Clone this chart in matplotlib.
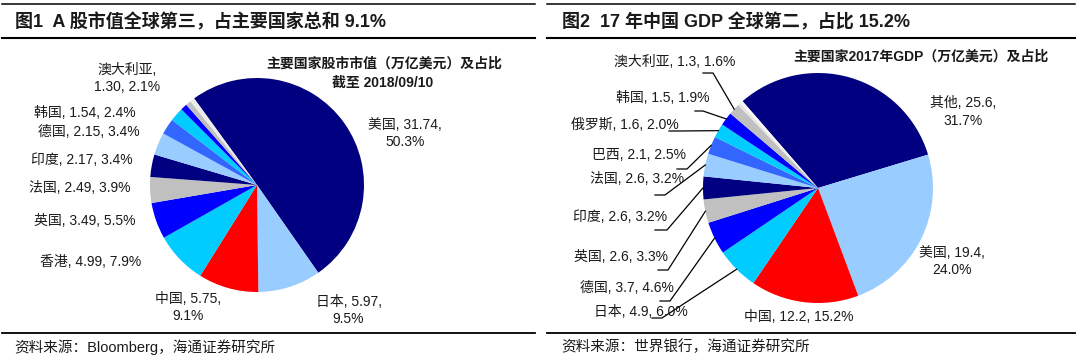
import matplotlib
matplotlib.use('Agg')
import matplotlib.pyplot as plt
from matplotlib.lines import Line2D
import numpy as np

plt.rcParams['font.family'] = ['Liberation Sans', 'Noto Sans CJK SC', 'DejaVu Sans']

W, H = 1080, 359

# 图1: market cap (trillion USD) and share, as of 2018/09/10
names1 = ['美国', '日本', '中国', '香港', '英国', '法国', '印度', '德国', '韩国', '澳大利亚']
cap1 = [31.74, 5.97, 5.75, 4.99, 3.49, 2.49, 2.17, 2.15, 1.54, 1.30]
share1 = [50.3, 9.5, 9.1, 7.9, 5.5, 3.9, 3.4, 3.4, 2.4, 2.1]
rest1 = [1.0, 0.8, 0.7]  # small unlabeled slices

# 图2: 2017 GDP (trillion USD) and share
names2 = ['其他', '美国', '中国', '日本', '德国', '英国', '印度', '法国', '巴西', '俄罗斯', '韩国', '澳大利亚']
gdp2 = [25.6, 19.4, 12.2, 4.9, 3.7, 2.6, 2.6, 2.6, 2.1, 1.6, 1.5, 1.3]
share2 = [31.7, 24.0, 15.2, 6.0, 4.6, 3.3, 3.2, 3.2, 2.5, 2.0, 1.9, 1.6]
rest2 = [0.4, 0.4]

palette = ['#000080', '#99CCFF', '#FF0000', '#00CCFF', '#0000FF', '#C0C0C0',
           '#000080', '#99CCFF', '#3366FF', '#00CCFF', '#0000FF', '#C0C0C0']
colors1 = palette[:10] + ['#0000FF', '#C0C0C0', '#EBEBEB']
colors2 = palette[:12] + ['#E6E6E6', '#F6F6F6']

# layout (pixels): pie centre / radius, label centres, wrap style
pie1 = (257, 185, 107, 126)
pie2 = (818, 188, 115, 131)
lab1 = [(405, 133.5, 2), (348.5, 310.5, 2), (188, 307.5, 2), (90.5, 262, 0),
        (84.5, 221, 0), (80, 188, 0), (82, 160, 0), (89, 132, 0),
        (84.5, 113, 0), (127, 78.5, 1)]
lab2 = [(963.5, 112, 2), (952, 261.5, 2), (799, 317, 0), (640.5, 312, 0),
        (626.5, 288, 0), (620.5, 257, 0), (620.5, 217, 0), (637.5, 179, 0),
        (639.5, 155, 0), (625, 125, 0), (663, 98, 0), (674.5, 62, 0)]
# leader start/elbow for the small slices of chart 2 (index -> points)
lead2 = {3: [(652, 318), (662, 318)], 4: [(660, 301), (670, 301)],
         5: [(658, 270), (668, 270)], 6: [(655, 230), (667, 230)],
         7: [(655, 195), (665, 195)], 8: [(677, 169), (687, 169)],
         9: [(669, 131), (680, 131)], 10: [(695, 111), (703, 111)],
         11: [(703, 73), (713, 73)]}

txt = '#1a1a1a'


def fx(x):
    return x / W


def fy(y):
    return 1 - y / H


def hline(fig, x0, x1, y, lw):
    fig.add_artist(Line2D([fx(x0), fx(x1)], [fy(y), fy(y)], lw=lw, color='black'))


def make_label(name, v, p, fmt, wrap):
    vs = fmt.format(v)
    if wrap == 1:
        return f'{name},\n{vs}, {p:.1f}%'
    if wrap == 2:
        return f'{name}, {vs},\n{p:.1f}%'
    return f'{name}, {vs}, {p:.1f}%'


def draw_pie(fig, geo, sizes, colors):
    cx, cy, r, start = geo
    ax = fig.add_axes([fx(cx - r), fy(cy + r), 2 * r / W, 2 * r / H])
    wedges, _ = ax.pie(sizes, colors=colors, startangle=start, counterclock=False,
                       radius=1, wedgeprops=dict(linewidth=0))
    ax.set_xlim(-1, 1)
    ax.set_ylim(-1, 1)
    ax.set_aspect('equal')
    ax.axis('off')
    return ax, wedges


fig = plt.figure(figsize=(W / 100, H / 100), dpi=100)

# frame rules
for x0, x1 in [(2, 535), (547, 1075)]:
    hline(fig, x0, x1, 4, 1.1)
    hline(fig, x0, x1, 38, 1.5)
    hline(fig, x0, x1, 333, 1.3)

fig.text(fx(15), fy(22), '图1  A 股市值全球第三，占主要国家总和 9.1%', fontsize=13,
         fontweight='bold', ha='left', va='center', color=txt)
fig.text(fx(562), fy(22), '图2  17 年中国 GDP 全球第二，占比 15.2%', fontsize=13,
         fontweight='bold', ha='left', va='center', color=txt)
fig.text(fx(14), fy(347), '资料来源：Bloomberg，海通证券研究所', fontsize=10.5,
         ha='left', va='center', color=txt)
fig.text(fx(561), fy(347), '资料来源：世界银行，海通证券研究所', fontsize=10.5,
         ha='left', va='center', color=txt)

# chart 1
ax1, w1 = draw_pie(fig, pie1, share1 + rest1, colors1)
fig.text(fx(384), fy(64), '主要国家股市市值（万亿美元）及占比', fontsize=10,
         fontweight='bold', ha='center', va='center', color=txt)
fig.text(fx(383), fy(83), '截至 2018/09/10', fontsize=10,
         fontweight='bold', ha='center', va='center', color=txt)
for i, (x, y, wrap) in enumerate(lab1):
    s = make_label(names1[i], cap1[i], share1[i], '{:.2f}', wrap)
    fig.text(fx(x), fy(y), s, fontsize=10, ha='center', va='center',
             linespacing=1.35, color=txt)

# chart 2
ax2, w2 = draw_pie(fig, pie2, share2 + rest2, colors2)
fig.text(fx(921), fy(57), '主要国家2017年GDP（万亿美元）及占比', fontsize=10,
         fontweight='bold', ha='center', va='center', color=txt)
for i, (x, y, wrap) in enumerate(lab2):
    s = make_label(names2[i], gdp2[i], share2[i], '{:.1f}', wrap)
    fig.text(fx(x), fy(y), s, fontsize=10, ha='center', va='center',
             linespacing=1.35, color=txt)

cx, cy, r, _ = pie2
for i, pts in lead2.items():
    w = w2[i]
    mid = np.deg2rad((w.theta1 + w.theta2) / 2)
    xs = [(p[0] - cx) / r for p in pts] + [np.cos(mid)]
    ys = [(cy - p[1]) / r for p in pts] + [np.sin(mid)]
    ax2.plot(xs, ys, color='black', lw=0.9, clip_on=False, zorder=5)

fig.savefig('out.png', dpi=100)
